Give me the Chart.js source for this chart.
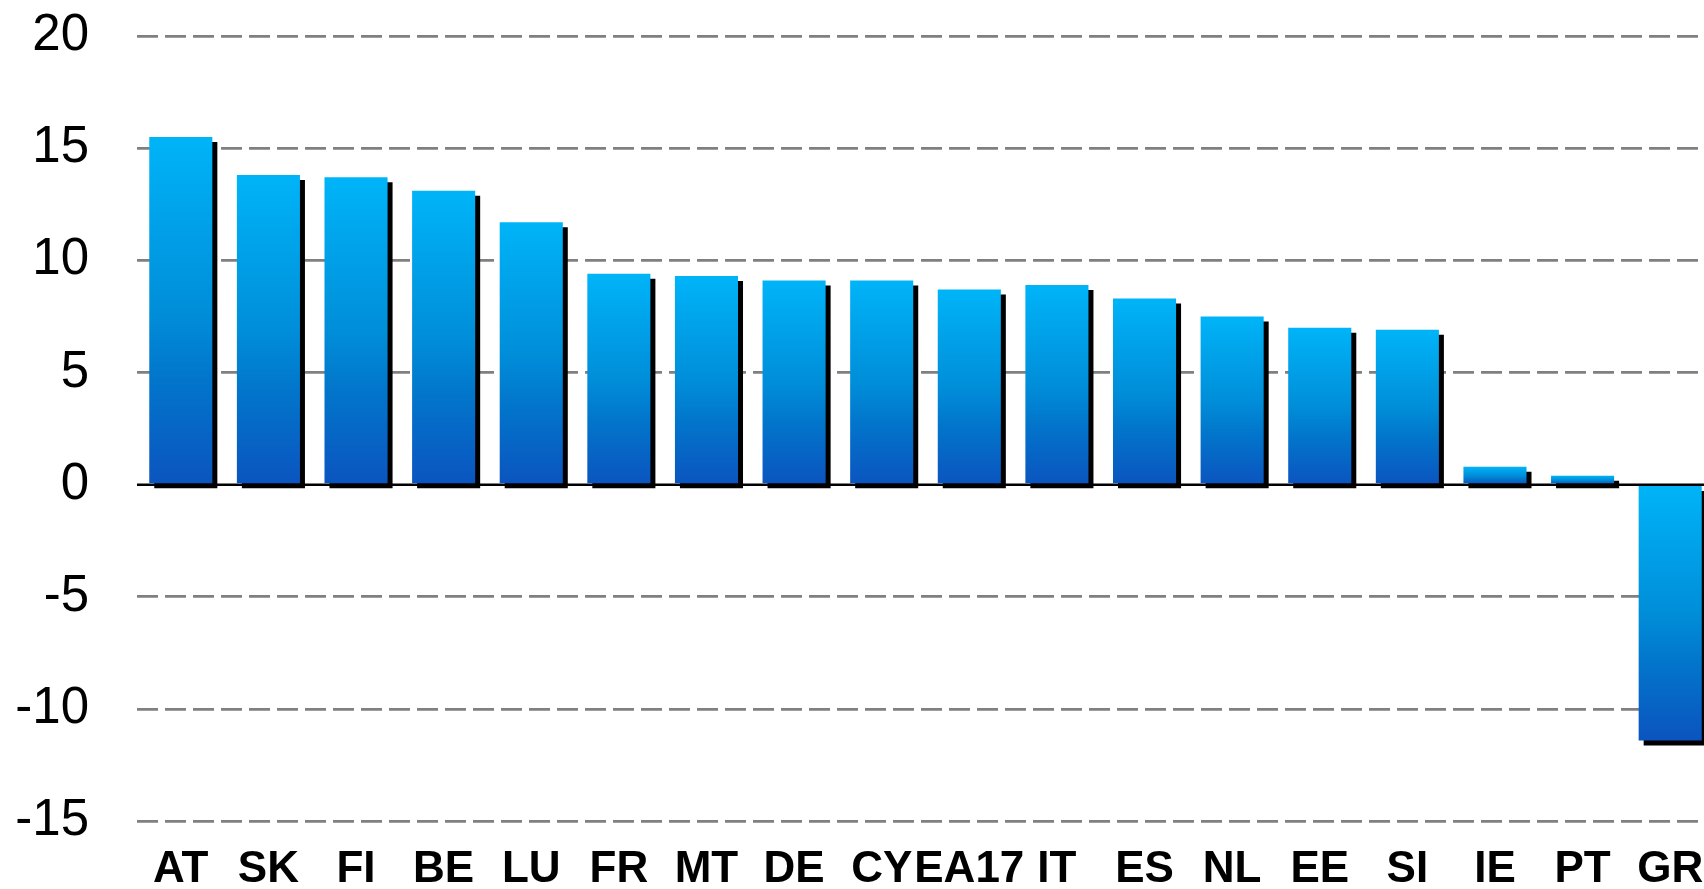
<!DOCTYPE html>
<html>
<head>
<meta charset="utf-8">
<script src="https://cdn.jsdelivr.net/npm/chart.js@4"></script>
<style>
    body { margin: 0; overflow: hidden; background: #fff; }
    #wrap { width: 1714px; height: 889px; }
</style>
</head>
<body>
<div id="wrap"><canvas id="barChart"></canvas></div>
<script>
const countries = ["AT", "SK", "FI", "BE", "LU", "FR", "MT", "DE", "CY", "EA17", "IT", "ES", "NL", "EE", "SI", "IE", "PT", "GR"];
const values = [15.5, 13.8, 13.7, 13.1, 11.7, 9.4, 9.3, 9.1, 9.1, 8.7, 8.9, 8.3, 7.5, 7.0, 6.9, 0.8, 0.4, -11.4];
const yTicks = [-15, -10, -5, 0, 5, 10, 15, 20];

function barGradient(ctx) {
    const chart = ctx.chart;
    if (!chart.chartArea || ctx.type !== "data") return "#00B4F8";
    const y = chart.scales.y;
    const v = ctx.raw;
    const top = y.getPixelForValue(Math.max(v, 0));
    const bottom = y.getPixelForValue(Math.min(v, 0));
    const g = chart.ctx.createLinearGradient(0, top, 0, bottom);
    g.addColorStop(0, "#00B4F8");
    g.addColorStop(0.5, "#008ED9");
    g.addColorStop(0.7, "#0275CB");
    g.addColorStop(1, "#0B54BF");
    return g;
}

// black drop shadow behind the bars + solid zero line
const shadowPlugin = {
    id: "shadow",
    beforeDatasetsDraw(chart) {
        const { ctx, chartArea } = chart;
        const y0 = chart.scales.y.getPixelForValue(0);
        ctx.save();
        ctx.strokeStyle = "#000";
        ctx.lineWidth = 2.5;
        ctx.beginPath();
        ctx.moveTo(chartArea.left, y0);
        ctx.lineTo(chartArea.right, y0);
        ctx.stroke();
        ctx.restore();

        ctx.save();
        ctx.shadowColor = "#000";
        ctx.shadowOffsetX = 5;
        ctx.shadowOffsetY = 5;
        ctx.shadowBlur = 0;
    },
    afterDatasetsDraw(chart) {
        chart.ctx.restore();
    }
};

new Chart(document.getElementById("barChart"), {
    type: "bar",
    data: {
        labels: countries,
        datasets: [{
            data: values,
            backgroundColor: barGradient,
            borderWidth: 0,
            categoryPercentage: 1,
            barPercentage: 0.72
        }]
    },
    options: {
        responsive: true,
        maintainAspectRatio: false,
        animation: false,
        layout: { padding: { top: 36, left: 0, right: 0, bottom: 0 } },
        plugins: {
            legend: { display: false },
            tooltip: { enabled: false }
        },
        scales: {
            x: {
                grid: { display: true, drawOnChartArea: false, drawTicks: true, tickLength: 30, tickColor: "rgba(0,0,0,0)", color: "rgba(0,0,0,0)" },
                border: { display: false },
                ticks: {
                    color: "#000",
                    autoSkip: false,
                    maxRotation: 0,
                    padding: 0,
                    font: { family: "'Liberation Sans', Arial, sans-serif", size: 44, weight: "bold", lineHeight: 0.86 }
                }
            },
            y: {
                min: -15,
                max: 20,
                afterFit(scale) { scale.width = 137; },
                afterBuildTicks(scale) { scale.ticks = yTicks.map(v => ({ value: v })); },
                grid: {
                    drawTicks: true,
                    tickLength: 48,
                    tickColor: "rgba(0,0,0,0)",
                    color: (c) => c.tick && c.tick.value === 0 ? "rgba(0,0,0,0)" : "#808080",
                    lineWidth: 2.7
                },
                border: { display: false, dash: [21, 7] },
                ticks: {
                    color: "#000",
                    padding: 0,
                    font: { family: "'Liberation Sans', Arial, sans-serif", size: 51 }
                }
            }
        }
    },
    plugins: [shadowPlugin]
});
</script>
</body>
</html>
